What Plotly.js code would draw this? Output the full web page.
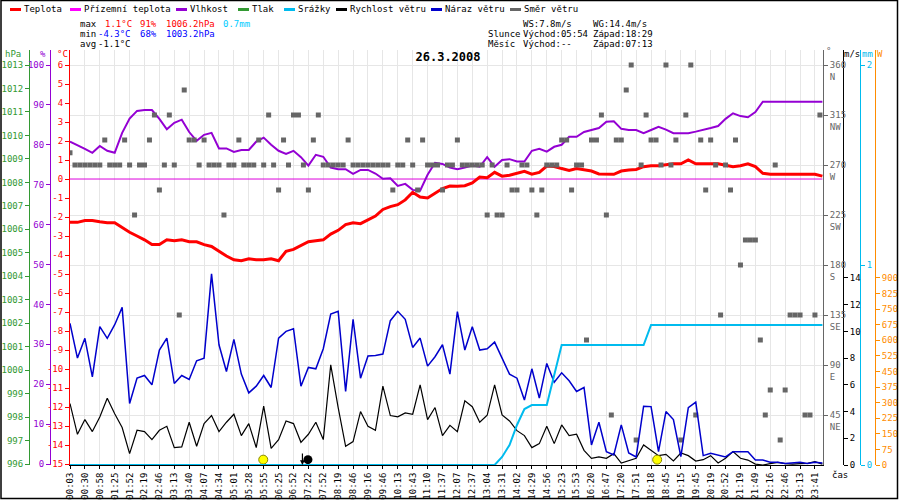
<!DOCTYPE html>
<html>
<head>
<meta charset="utf-8">
<script src="https://cdn.plot.ly/plotly-3.0.1.min.js"></script>
<style>body{margin:0;background:#fff}</style>
</head>
<body>
<div id="chart" style="width:900px;height:500px"></div>
<script>
// x axis: one unit = one time label (samples every half label, direction every third)
const timeLabels = ['00:03','00:30','00:58','01:25','01:52','02:19','02:46','03:13','03:40','04:07',
  '04:34','05:01','05:28','05:55','06:25','06:52','07:22','07:52','08:19','08:46',
  '09:16','09:46','10:13','10:43','11:10','11:37','12:07','12:37','13:04','13:31',
  '14:02','14:29','14:56','15:23','15:53','16:20','16:47','17:20','17:51','18:18',
  '18:45','19:15','19:45','20:19','20:52','21:19','21:49','22:16','22:46','23:13','23:41'];

const temperature = [
  -2.28,-2.28,-2.18,-2.18,-2.25,-2.3,-2.3,-2.55,-2.8,-3.0,
  -3.2,-3.45,-3.45,-3.2,-3.25,-3.2,-3.3,-3.3,-3.45,-3.55,
  -3.8,-4.05,-4.25,-4.3,-4.2,-4.25,-4.25,-4.2,-4.3,-3.8,
  -3.7,-3.5,-3.3,-3.25,-3.2,-2.9,-2.7,-2.4,-2.3,-2.35,
  -2.15,-1.95,-1.6,-1.45,-1.35,-1.1,-0.7,-0.95,-1.0,-0.75,
  -0.5,-0.37,-0.38,-0.35,-0.2,0.1,0.07,0.35,0.15,0.2,
  0.3,0.4,0.25,0.35,0.68,0.66,0.55,0.45,0.55,0.5,
  0.42,0.27,0.25,0.25,0.42,0.48,0.5,0.65,0.7,0.7,
  0.75,0.8,0.8,1.0,0.8,0.8,0.8,0.8,0.72,0.65,
  0.7,0.8,0.65,0.3,0.25,0.25,0.25,0.25,0.25,0.25,
  0.25,0.15];

const groundTemp = [
  0,0,0,0,0,0,0,0,0,0, 0,0,0,0,0,0,0,0,0,0, 0,0,0,0,0,0,0,0,0,0,
  0,0,0,0,0,0,0,0,0,0, 0,0,0,0,0,0,0,0,0,0, 0,0,0,0,0,0,0,0,0,0,
  0,0,0,0,0,0,0,0,0,0, 0,0,0,0,0,0,0,0,0,0, 0,0,0,0,0,0,0,0,0,0,
  0,0,0,0,0,0,0,0,0,0, 0,0];

const humidity = [
  80.8,80,79,78,79.7,78.5,78,83,86.6,88.5,
  88.7,88.7,86.5,83.9,85.5,86.3,83.2,81,82.5,83,
  79.1,79.1,78.2,78.7,78.7,80.8,81.8,80,78.5,77.7,
  78.5,76.9,74.8,77.5,77,74.3,73.9,73.9,72.7,73.7,
  73.7,72.8,71.5,71.6,69.7,70.2,68.7,68.5,72.5,75.5,
  75.2,74.3,73.9,74.3,74.8,74.5,76.9,74.5,76.2,76.4,
  75.8,75.8,78.5,79,78.3,79.5,80,82,82,83.2,
  83.7,84.2,85.8,85.9,84,83.7,83.7,82.9,83.7,84.5,
  83.8,82.9,82.9,82.9,83.3,83.7,84.2,84.7,86.5,87.9,
  87.2,86.9,88.2,90.8,90.8,90.8,90.8,90.8,90.8,90.8,
  90.8,90.8];

// pressure and solar radiation are not plotted in the source, only their axes
const pressure = [];
const solar = [];

const rain = [
  0,0,0,0,0,0,0,0,0,0, 0,0,0,0,0,0,0,0,0,0, 0,0,0,0,0,0,0,0,0,0,
  0,0,0,0,0,0,0,0,0,0, 0,0,0,0,0,0,0,0,0,0, 0,0,0,0,0,0,0,0,
  0.04,0.1,0.2,0.28,0.3,0.3,0.3,0.45,
  0.6,0.6,0.6,0.6,0.6,0.6,0.6,0.6,0.6,0.6,0.6,0.6,
  0.7,0.7,0.7,0.7,0.7,0.7,0.7,0.7,0.7,0.7,0.7,0.7,
  0.7,0.7,0.7,0.7,0.7,0.7,0.7,0.7,0.7,0.7,0.7,0.7];

const windSpeed = [
  4.6,2.3,3.4,2.5,3.6,5.0,3.84,2.8,0.85,2.6,
  2.5,1.9,2.6,2.9,1.3,1.35,3.2,1.4,3.1,3.7,
  2.5,3.2,3.8,2.2,3.1,1.3,4.4,1.25,1.9,3.3,
  3.1,1.7,2.3,3.2,1.9,7.5,4.3,1.4,1.75,4.0,
  2.9,2.6,5.9,3.7,3.6,3.9,3.8,6.0,3.4,4.3,
  2.2,2.97,2.5,4.8,4.36,3.2,3.72,6.0,3.75,3.3,
  2.57,2.2,1.3,1.6,2.9,1.6,3.0,2.2,2.3,1.1,
  0.5,0.6,0.5,0.85,0.15,0.3,0.5,1.5,1.1,0.7,
  0.8,0.3,0.9,0.7,0.3,0.4,0.7,0.15,0.5,1.0,
  0.5,0.37,0.07,0,0.1,0.2,0.1,0.07,0.1,0.12,
  0.25,0.07];

const windGust = [
  10.6,8.0,9.48,6.6,10.35,9.48,10.5,11.8,4.6,6.5,
  6.7,6.0,8.6,9.5,6.1,6.7,6.4,7.8,8.0,14.3,
  9.0,7.0,9.4,6.8,5.4,5.9,6.7,5.8,9.5,10.0,
  10.2,5.9,7.3,7.2,8.7,11.3,11.5,5.5,10.9,6.5,
  8.16,8.2,8.3,10.8,11.5,10.9,8.8,9.5,7.4,8.1,
  9.0,6.8,11.48,8.6,10.35,8.6,8.7,9.2,8.0,6.8,
  6.5,4.86,7.2,5.0,7.6,6.2,6.9,6.3,5.5,5.8,
  1.5,3.2,1.0,0.75,3.0,0.9,0.6,4.4,4.37,1.0,
  4.0,3.4,0.62,4.3,4.7,0.7,0.87,0.75,0.6,1.0,
  1.0,1.0,0.37,0.37,0.2,0.2,0.12,0.15,0.2,0.12,
  0.2,0.15];

const windDir = [
  281,270,270,270,270,270,270,292.5,270,270,270,292.5,270,225,270,270,292.5,315,247.5,270,
  315,270,135,337.5,292.5,292.5,270,292.5,270,270,270,225,270,270,292.5,270,270,270,292.5,270,
  315,270,247.5,292.5,270,315,315,270,247.5,292.5,315,270,270,270,270,270,292.5,270,270,270,
  270,270,270,270,270,247.5,270,270,292.5,270,247.5,292.5,270,270,270,247.5,270,270,292.5,270,
  270,270,270,270,225,270,225,225,270,247.5,247.5,270,270,247.5,225,247.5,270,270,270,292.5,
  292.5,247.5,270,270,112.5,292.5,292.5,315,225,45,292.5,292.5,337.5,360,22.5,270,315,292.5,292.5,270,
  360,270,292.5,22.5,315,360,45,292.5,247.5,292.5,270,135,270,247.5,292.5,180,202.5,202.5,202.5,112.5,
  45,67.5,270,22.5,67.5,135,135,135,45,45,135,315];

const sunMarks = [12.97, 39.41];
const moonMarks = [15.97];
const moonSet = 15.6;

const tempTicks = [-15,-14,-13,-12,-11,-10,-9,-8,-7,-6,-5,-4,-3,-2,-1,0,1,2,3,4,5,6];
const pressTicks = [996,997,998,999,1000,1001,1002,1003,1004,1005,1006,1007,1008,1009,1010,1011,1012,1013];
const humTicks = [0,10,20,30,40,50,60,70,80,90,100];
const dirTicks = [45,90,135,180,225,270,315,360];
const dirNames = ['NE','E','SE','S','SW','W','NW','N'];
const speedTicks = [0,2,4,6,8,10,12,14];
const rainTicks = [0,1,2];
const solarTicks = [0,75,150,225,300,375,450,525,600,675,750,825,900];

const FONT = 'DejaVu Sans Mono, monospace';
const RED = '#ff0000', MAG = '#ff00ff', PUR = '#9400d3', GRN = '#339933',
      CYAN = '#00bbee', BLUE = '#0000cc', GRAY = '#666666', ORNG = '#ff8c00';

// pixel helpers for the decoration (plot area spans y 50..465)
const TOP = 50, BOT = 465;
function px(x) { return x / 900; }
function py(y) { return (BOT - y) / (BOT - TOP); }

const t = temperature.map((v, i) => i / 2);
const tDir = windDir.map((v, j) => j / 3);

const traces = [
  {x: [], y: pressure, yaxis: 'y2', mode: 'lines', line: {color: GRN}},
  {x: [], y: solar, yaxis: 'y7', mode: 'lines', line: {color: ORNG}},
  {x: tDir, y: windDir, yaxis: 'y4', mode: 'markers', type: 'scatter',
   marker: {symbol: 'square', size: 5, color: GRAY}},
  {x: t, y: rain, yaxis: 'y6', mode: 'lines', line: {color: CYAN, width: 2}},
  {x: t, y: windSpeed, yaxis: 'y5', mode: 'lines', line: {color: '#000', width: 1.2}},
  {x: t, y: windGust, yaxis: 'y5', mode: 'lines', line: {color: BLUE, width: 1.5}},
  {x: t, y: humidity, yaxis: 'y3', mode: 'lines', line: {color: PUR, width: 2}},
  {x: t, y: groundTemp, yaxis: 'y', mode: 'lines', line: {color: '#dd00dd', width: 1}},
  {x: t, y: temperature, yaxis: 'y', mode: 'lines', line: {color: RED, width: 3}},
  {x: sunMarks, y: sunMarks.map(() => 0.4), yaxis: 'y5', mode: 'markers', cliponaxis: false,
   marker: {size: 9, color: '#ffff00', line: {color: '#888800', width: 1}}},
  {x: moonMarks, y: [0.4], yaxis: 'y5', mode: 'markers', cliponaxis: false,
   marker: {size: 9, color: '#000'}}
];
traces.forEach(tr => { tr.showlegend = false; tr.hoverinfo = 'skip'; });

function yAx(color, opts) {
  return Object.assign({
    showgrid: false, zeroline: false, showline: true, linewidth: 1, linecolor: color,
    ticks: 'outside', ticklen: 4, tickwidth: 1, tickcolor: color,
    tickfont: {family: FONT, size: 9, color: color}, fixedrange: true
  }, opts);
}

const annotations = [];
const shapes = [];
function txt(s, x, y, color, extra) {
  annotations.push(Object.assign({
    text: s, xref: 'paper', yref: 'paper', x: px(x), y: py(y),
    xanchor: 'left', yanchor: 'middle', showarrow: false, borderpad: 0, borderwidth: 0,
    font: {family: FONT, size: 9, color: color || '#000'}
  }, extra || {}));
}

// legend row
const legendNames = ['Teplota','Přízemní teplota','Vlhkost','Tlak','Srážky','Rychlost větru','Náraz větru','Směr větru'];
const legendColors = [RED, MAG, PUR, GRN, CYAN, '#000', BLUE, GRAY];
const legendPx = [10, 70, 176, 238, 284, 336, 431, 510];
legendNames.forEach((n, k) => {
  shapes.push({type: 'line', xref: 'paper', yref: 'paper',
    x0: px(legendPx[k]), x1: px(legendPx[k] + 11), y0: py(9.5), y1: py(9.5),
    line: {color: legendColors[k], width: 3}});
  txt(n, legendPx[k] + 14, 9.5, '#000');
});

// stats block
txt('max', 80, 24); txt('1.1°C', 105, 24, RED); txt('91%', 140, 24, RED);
txt('1006.2hPa', 166, 24, RED); txt('0.7mm', 223, 24, '#00ccff');
txt('min', 80, 34); txt('-4.3°C', 98, 34, '#0000ff'); txt('68%', 140, 34, '#0000ff');
txt('1003.2hPa', 166, 34, '#0000ff');
txt('avg', 80, 44); txt('-1.1°C', 98, 44);
txt('WS:7.8m/s', 523, 24); txt('WG:14.4m/s', 593, 24);
txt('Slunce', 488, 34); txt('Východ:05:54', 523, 34); txt('Západ:18:29', 593, 34);
txt('Měsíc', 488, 44); txt('Východ:--', 523, 44); txt('Západ:07:13', 593, 44);

// axis units
txt('hPa', 13, 54, GRN, {xanchor: 'center'});
txt('%', 43, 54, PUR, {xanchor: 'center'});
txt('°C', 62, 54, RED, {xanchor: 'center'});
txt('°', 826, 51, GRAY);
txt('m/s', 844, 54, '#000');
txt('mm', 862, 54, CYAN);
txt('W', 877, 54, ORNG);
txt('čas', 840, 475, '#000', {xanchor: 'center'});

// moonset arrow
annotations.push({x: moonSet, y: 0, xref: 'x', yref: 'y5', text: '', showarrow: true,
  ax: 0, ay: -13, arrowhead: 2, arrowsize: 0.8, arrowwidth: 1.2, arrowcolor: '#000'});

// outer frame
shapes.push({type: 'rect', xref: 'paper', yref: 'paper',
  x0: px(1), x1: px(897.5), y0: py(498.5), y1: py(0.5), line: {color: '#000', width: 1.5}});

const layout = {
  width: 900, height: 500,
  margin: {l: 0, r: 0, t: 50, b: 35, pad: 0},
  paper_bgcolor: '#fff', plot_bgcolor: '#fff',
  showlegend: false,
  title: {text: '<b>26.3.2008</b>', font: {family: FONT, size: 12, color: '#000'},
          xref: 'container', yref: 'container', x: 448 / 900, xanchor: 'center',
          y: 1 - 57 / 500, yanchor: 'middle'},
  xaxis: {
    domain: [px(70), px(823)], range: [0, 50.54], fixedrange: true,
    tickvals: timeLabels.map((s, k) => k), ticktext: timeLabels, tickangle: -90,
    tickfont: {family: FONT, size: 9, color: '#000'},
    ticks: 'outside', ticklen: 3, tickcolor: '#000',
    showline: true, linecolor: '#000', linewidth: 1,
    showgrid: true, gridcolor: '#e6e6e6', gridwidth: 1, zeroline: false
  },
  yaxis: yAx(RED, {anchor: 'x', side: 'left', range: [-15.05, 6.79],
    tickvals: tempTicks, ticktext: tempTicks.map(String)}),
  yaxis2: yAx(GRN, {overlaying: 'y', anchor: 'free', position: px(29), side: 'left',
    range: [995.96, 1013.64], tickvals: pressTicks, ticktext: pressTicks.map(String)}),
  yaxis3: yAx(PUR, {overlaying: 'y', anchor: 'free', position: px(50), side: 'left',
    range: [-0.25, 103.76], tickvals: humTicks, ticktext: humTicks.map(String)}),
  yaxis4: yAx(GRAY, {overlaying: 'y', anchor: 'x', side: 'right', range: [0, 373.5],
    tickvals: dirTicks, ticktext: dirTicks.map((v, k) => v + '<br>' + dirNames[k]),
    showgrid: true, gridcolor: '#e6e6e6', ticklabelshift: 6}),
  yaxis5: yAx('#000', {overlaying: 'y', anchor: 'free', position: px(843), side: 'right',
    range: [0, 31.06], tickvals: speedTicks, ticktext: speedTicks.map(String)}),
  yaxis6: yAx(CYAN, {overlaying: 'y', anchor: 'free', position: px(860), side: 'right',
    range: [0, 2.075], tickvals: rainTicks, ticktext: rainTicks.map(String)}),
  yaxis7: yAx(ORNG, {overlaying: 'y', anchor: 'free', position: px(875), side: 'right',
    range: [0, 1997], tickvals: solarTicks, ticktext: solarTicks.map(String)}),
  annotations: annotations,
  shapes: shapes
};

Plotly.newPlot('chart', traces, layout, {staticPlot: true, displayModeBar: false});
</script>
</body>
</html>
